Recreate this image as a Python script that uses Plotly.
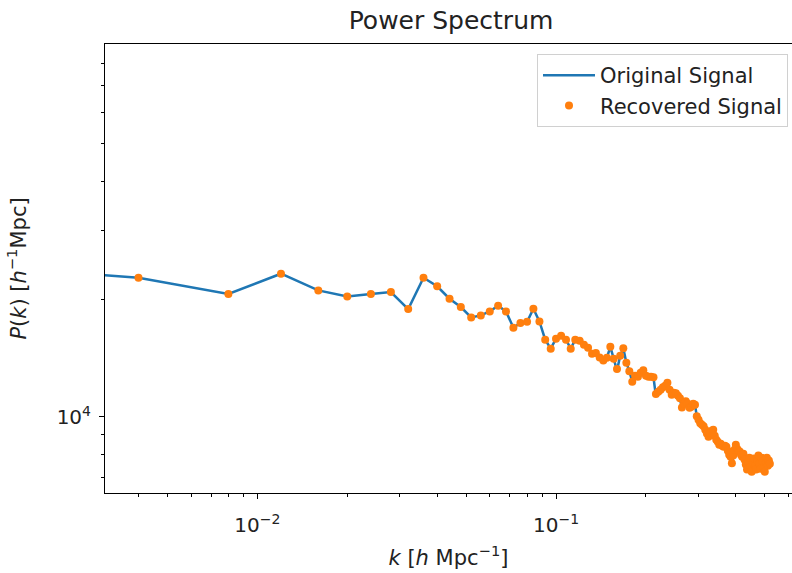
import math
import plotly.graph_objects as go

# Wavenumber bins k [h/Mpc]; the first bin sits at k = 0
k = [
    0.000, 0.004, 0.008, 0.012, 0.016, 0.020, 0.024, 0.028, 0.032, 0.036,
    0.040, 0.044, 0.048, 0.052, 0.056, 0.060, 0.064, 0.068, 0.072, 0.076,
    0.080, 0.084, 0.088, 0.092, 0.096, 0.100, 0.104, 0.108, 0.112, 0.116,
    0.120, 0.124, 0.128, 0.132, 0.136, 0.140, 0.144, 0.148, 0.152, 0.156,
    0.160, 0.164, 0.168, 0.172, 0.176, 0.180, 0.184, 0.188, 0.192, 0.196,
    0.200, 0.204, 0.208, 0.212, 0.216, 0.220, 0.224, 0.228, 0.232, 0.236,
    0.240, 0.244, 0.248, 0.252, 0.256, 0.260, 0.264, 0.268, 0.272, 0.276,
    0.280, 0.284, 0.288, 0.292, 0.296, 0.300, 0.304, 0.308, 0.312, 0.316,
    0.320, 0.324, 0.328, 0.332, 0.336, 0.340, 0.344, 0.348, 0.352, 0.356,
    0.360, 0.364, 0.368, 0.372, 0.376, 0.380, 0.384, 0.388, 0.392, 0.396,
    0.400, 0.404, 0.408, 0.412, 0.416, 0.420, 0.424, 0.428, 0.432, 0.436,
    0.440, 0.444, 0.448, 0.452, 0.456, 0.460, 0.464, 0.468, 0.472, 0.476,
    0.480, 0.484, 0.488, 0.492, 0.496, 0.500, 0.504, 0.508, 0.512, 0.516,
    0.520,
]

# P(k) [h^-1 Mpc] of the input signal
p_original = [
    79000, 22670, 20600, 23210, 21040, 20310, 20600, 20840, 18860, 22670,
    21560, 20040, 19080, 17950, 18170, 18600, 19230, 18600, 16900, 17370,
    17500, 18890, 17540, 15750, 14940, 15840, 16120, 15750, 14940, 15750,
    15660, 15290, 15030, 14500, 14560, 14190, 13940, 14170, 15110, 14090,
    13130, 14340, 14980, 13760, 13090, 12300, 12750, 12670, 12970, 13170,
    12750, 12670, 12670, 12630, 11300, 11600, 11740, 11910, 12020, 12230,
    11740, 11400, 11530, 11500, 11330, 11170, 10470, 10810, 10970, 10810,
    10560, 10620, 10810, 10750, 10050, 9840, 9640, 9560, 9470, 9280,
    9070, 8910, 9120, 9230, 9280, 8960, 8750, 8650, 8500, 8550,
    8450, 8400, 8450, 8400, 8200, 8010, 7920, 7510, 7970, 8250,
    8500, 8300, 8200, 8160, 8010, 7920, 8060, 7780, 7560, 7340,
    7690, 7870, 7470, 7250, 7650, 7830, 7510, 7340, 7740, 7970,
    7600, 7380, 7870, 7690, 7420, 7250, 7650, 7870, 7510, 7740,
    7600,
]

# P(k) [h^-1 Mpc] measured from the reconstruction
p_recovered = [
    79000, 22670, 20600, 23210, 21040, 20310, 20600, 20840, 18860, 22670,
    21560, 20040, 19080, 17950, 18170, 18600, 19230, 18600, 16900, 17370,
    17500, 18890, 17540, 15750, 14940, 15840, 16120, 15750, 14940, 15750,
    15660, 15290, 15030, 14500, 14560, 14190, 13940, 14170, 15110, 14090,
    13250, 14340, 14980, 13760, 13090, 12300, 12750, 12670, 12970, 13170,
    12750, 12670, 12670, 12630, 11450, 11600, 11740, 11910, 12020, 12230,
    11740, 11400, 11530, 11500, 11330, 11170, 10580, 10810, 10970, 10810,
    10560, 10620, 10810, 10750, 10050, 9840, 9640, 9560, 9470, 9280,
    9070, 8910, 9120, 9230, 9280, 8960, 8750, 8650, 8500, 8550,
    8450, 8400, 8450, 8400, 8200, 8010, 7920, 7620, 7970, 8250,
    8500, 8300, 8200, 8160, 8010, 7920, 8060, 7780, 7560, 7340,
    7690, 7870, 7470, 7250, 7650, 7830, 7510, 7340, 7740, 7970,
    7600, 7380, 7870, 7690, 7420, 7250, 7650, 7870, 7510, 7740,
    7600,
]

x_tickvals = [0.01, 0.1]
x_ticktext = ["10<sup>−2</sup>", "10<sup>−1</sup>"]
x_minor = [0.004, 0.005, 0.006, 0.007, 0.008, 0.009,
           0.02, 0.03, 0.04, 0.05, 0.06, 0.07, 0.08, 0.09,
           0.2, 0.3, 0.4, 0.5, 0.6]
y_tickvals = [1e4]
y_ticktext = ["10<sup>4</sup>"]
y_minor = [7000, 8000, 9000, 20000, 30000, 40000, 50000, 60000, 70000, 80000, 90000]

# A log axis cannot place k = 0, so clip it to a tiny positive value
k_plot = [v if v > 0 else 1e-12 for v in k]

FONT = "DejaVu Sans"

fig = go.Figure()
fig.add_trace(go.Scatter(
    x=k_plot, y=p_original, mode="lines", name="Original Signal",
    line=dict(color="#1f77b4", width=2.5),
))
fig.add_trace(go.Scatter(
    x=k_plot, y=p_recovered, mode="markers", name="Recovered Signal",
    marker=dict(color="#ff7f0e", size=8, line=dict(width=0)),
))

axis_common = dict(
    type="log",
    showline=True, linecolor="black", linewidth=1,
    ticks="outside", ticklen=5, tickwidth=1, tickcolor="black",
    showgrid=False, zeroline=False,
    tickfont=dict(family=FONT, size=20, color="#222222"),
    tickmode="array",
)

fig.update_layout(
    width=792, height=573,
    margin=dict(l=105, r=0, t=44, b=80),
    paper_bgcolor="white", plot_bgcolor="white",
    font=dict(family=FONT, color="#222222"),
    title=dict(
        text="Power Spectrum",
        font=dict(family=FONT, size=25, color="#222222"),
        x=451 / 792, xref="container", xanchor="center",
        y=1 - 20 / 573, yref="container", yanchor="middle",
    ),
    xaxis=dict(
        **axis_common,
        range=[math.log10(0.00309), -0.2099],
        mirror=True,
        ticklabelstandoff=9,
        tickvals=x_tickvals, ticktext=x_ticktext,
        minor=dict(tickmode="array", tickvals=x_minor, ticks="outside",
                   ticklen=3, tickwidth=1, tickcolor="black", showgrid=False),
        title=dict(text="<i>k</i> [<i>h</i> Mpc<sup>−1</sup>]",
                   font=dict(family=FONT, size=21, color="#222222"), standoff=14),
    ),
    yaxis=dict(
        **axis_common,
        range=[3.806, 4.952],
        mirror=False,
        ticklabelstandoff=4,
        tickvals=y_tickvals, ticktext=y_ticktext,
        minor=dict(tickmode="array", tickvals=y_minor, ticks="outside",
                   ticklen=3, tickwidth=1, tickcolor="black", showgrid=False),
        title=dict(text="<i>P</i>(<i>k</i>) [<i>h</i><sup>−1</sup>Mpc]",
                   font=dict(family=FONT, size=21, color="#222222"), standoff=24),
    ),
    legend=dict(
        x=(537 - 105) / 687, y=(493.3 - 54) / 449.3,
        xanchor="left", yanchor="top",
        bgcolor="white", bordercolor="#d0d0d0", borderwidth=1,
        itemwidth=52,
        font=dict(family=FONT, size=21, color="#222222"),
    ),
    showlegend=True,
)

fig.write_html("out.html")
